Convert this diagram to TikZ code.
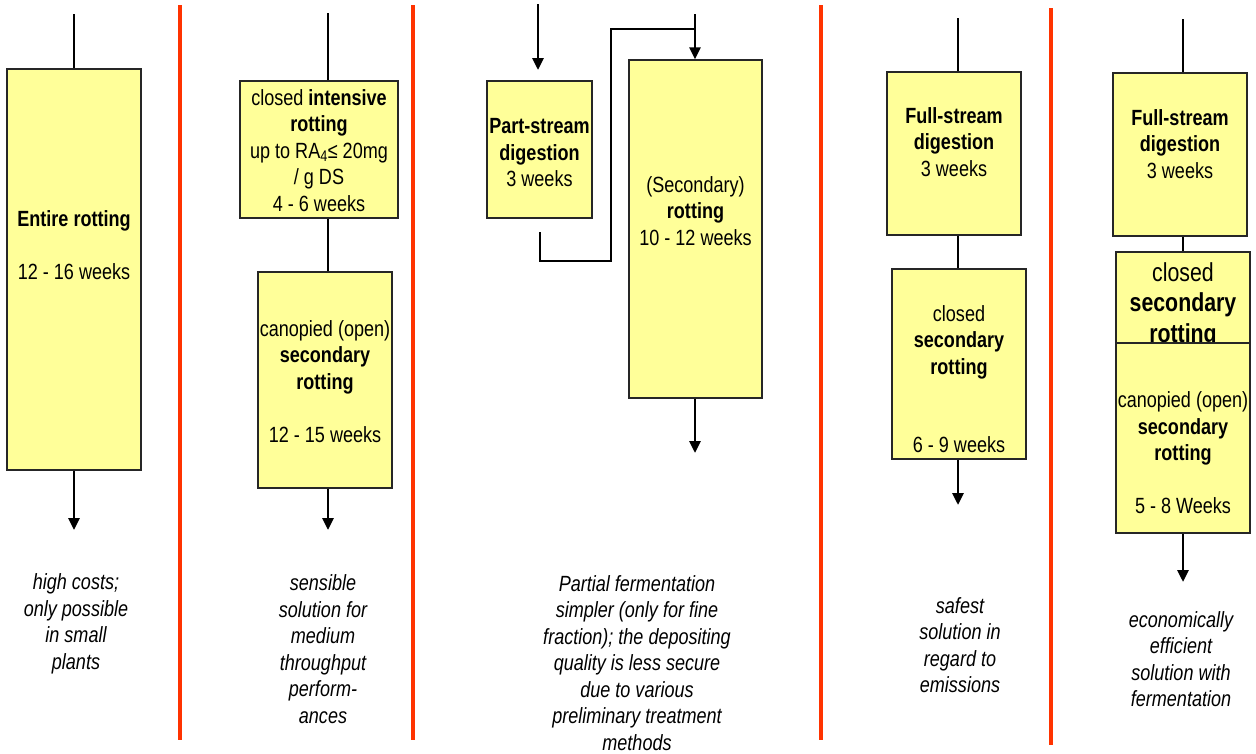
\documentclass[tikz,border=0pt]{standalone}
\usepackage{fontspec}
\setmainfont{Liberation Sans}[FakeStretch=0.82]
\usetikzlibrary{arrows.meta}
\definecolor{boxyellow}{HTML}{FFFF99}
\definecolor{dividerred}{HTML}{FF3300}

\begin{document}
\begin{tikzpicture}[x=1pt,y=-1pt,
  stage/.style={draw=black!85, line width=1.4pt, fill=boxyellow, inner sep=0pt},
  boxtext/.style={align=center, inner sep=0pt, font=\fontsize{22}{26.5}\selectfont},
  bigtext/.style={align=center, inner sep=0pt, font=\fontsize{26}{30.5}\selectfont},
  notetext/.style={align=center, inner sep=0pt, font=\fontsize{22}{26.5}\selectfont\itshape},
  flow/.style={line width=2.8pt, black},
  feed/.style={flow, -{Triangle[width=11pt,length=12pt]}},
  divider/.style={dividerred, line width=4.5pt}
]
\useasboundingbox (0,0) rectangle (1256,753);

% column separators
\draw[divider] (180,5) -- (180,740);
\draw[divider] (413,5) -- (413,740);
\draw[divider] (821,5) -- (821,740);
\draw[divider] (1051,8) -- (1051,745);

% ---- entire rotting
\node[stage, minimum width=134pt, minimum height=401pt] (s1) at (74,269.5) {};
\node[boxtext] (t1) at (74,245) {\textbf{Entire rotting}\\[26.5pt]12 - 16 weeks};
\coordinate (c1in) at (74,14);
\coordinate (c1out) at (74,530);
\draw[flow] (c1in) -- (s1.north);
\draw[feed] (s1.south) -- (c1out);
\node[notetext] (n1) at (76,624) {high costs;\\only possible\\in small\\plants};

% ---- intensive + canopied rotting
\node[stage, minimum width=158pt, minimum height=137pt] (s2a) at (319,149.5) {};
\node[boxtext] (t2a) at (319,150.5) {closed \textbf{intensive}\\\textbf{rotting}\\up to RA\textsubscript{4}≤ 20mg\\/ g DS\\4 - 6 weeks};
\node[stage, minimum width=134pt, minimum height=216pt] (s2b) at (325,380) {};
\node[boxtext] (t2b) at (325,381.5) {canopied (open)\\\textbf{secondary}\\\textbf{rotting}\\[26.5pt]12 - 15 weeks};
\coordinate (c2in) at (328,13);
\coordinate (c2out) at (328,530);
\draw[flow] (c2in) -- (c2in |- s2a.north);
\draw[flow] (c2in |- s2a.south) -- (c2in |- s2b.north);
\draw[feed] (c2in |- s2b.south) -- (c2out);
\node[notetext] (n2) at (323,649) {sensible\\solution for\\medium\\throughput\\perform-\\ances};

% ---- part-stream digestion
\node[stage, minimum width=105pt, minimum height=137pt] (s3a) at (539.5,149.5) {};
\node[boxtext] (t3a) at (539.5,153) {\textbf{Part-stream}\\\textbf{digestion}\\3 weeks};
\node[stage, minimum width=133pt, minimum height=338pt] (s3b) at (695.5,229) {};
\node[boxtext] (t3b) at (695.5,211) {(Secondary)\\\textbf{rotting}\\10 - 12 weeks};
\coordinate (c3in) at (538,4);
\coordinate (c3tip) at (538,70);
\coordinate (c3back) at (540,232);
\coordinate (c3turn) at (611,261);
\coordinate (c3join) at (695,29);
\coordinate (c3main) at (695,14);
\coordinate (c3out) at (695,453);
\draw[feed] (c3in) -- (c3tip);
\draw[flow] (c3back) |- (c3turn) |- (c3join);
\draw[feed] (c3main) -- (c3main |- s3b.north);
\draw[feed] (c3main |- s3b.south) -- (c3out);
\node[notetext] (n3) at (637,663) {Partial fermentation\\simpler (only for fine\\fraction); the depositing\\quality is less secure\\due to various\\preliminary treatment\\methods};

% ---- full-stream digestion, closed secondary rotting
\node[stage, minimum width=134pt, minimum height=163pt] (s4a) at (954,153.5) {};
\node[boxtext] (t4a) at (954,142) {\textbf{Full-stream}\\\textbf{digestion}\\3 weeks};
\node[stage, minimum width=134pt, minimum height=190pt] (s4b) at (959,364) {};
\node[boxtext] (t4b) at (959,379) {closed\\\textbf{secondary}\\\textbf{rotting}\\[52pt]6 - 9 weeks};
\coordinate (c4in) at (958,18);
\coordinate (c4out) at (958,505);
\draw[flow] (c4in) -- (c4in |- s4a.north);
\draw[flow] (c4in |- s4a.south) -- (c4in |- s4b.north);
\draw[feed] (c4in |- s4b.south) -- (c4out);
\node[notetext] (n4) at (960,645) {safest\\solution in\\regard to\\emissions};

% ---- full-stream digestion, closed + canopied rotting
\node[stage, minimum width=134pt, minimum height=163pt] (s5a) at (1180,154.5) {};
\node[boxtext] (t5a) at (1180,144) {\textbf{Full-stream}\\\textbf{digestion}\\3 weeks};
\node[stage, minimum width=134pt, minimum height=120pt] (s5b) at (1183,312) {};
\node[bigtext] (t5b) at (1183,305) {closed\\\textbf{secondary}\\\textbf{rotting}};
\node[stage, minimum width=134pt, minimum height=190pt] (s5c) at (1183,438) {};
\node[boxtext] (t5c) at (1183,453) {canopied (open)\\\textbf{secondary}\\\textbf{rotting}\\[26.5pt]5 - 8 Weeks};
\coordinate (c5in) at (1183,19);
\coordinate (c5out) at (1183,582);
\draw[flow] (c5in) -- (c5in |- s5a.north);
\draw[flow] (c5in |- s5a.south) -- (c5in |- s5b.north);
\draw[feed] (c5in |- s5c.south) -- (c5out);
\node[notetext] (n5) at (1181,659) {economically\\efficient\\solution with\\fermentation};
\end{tikzpicture}
\end{document}
